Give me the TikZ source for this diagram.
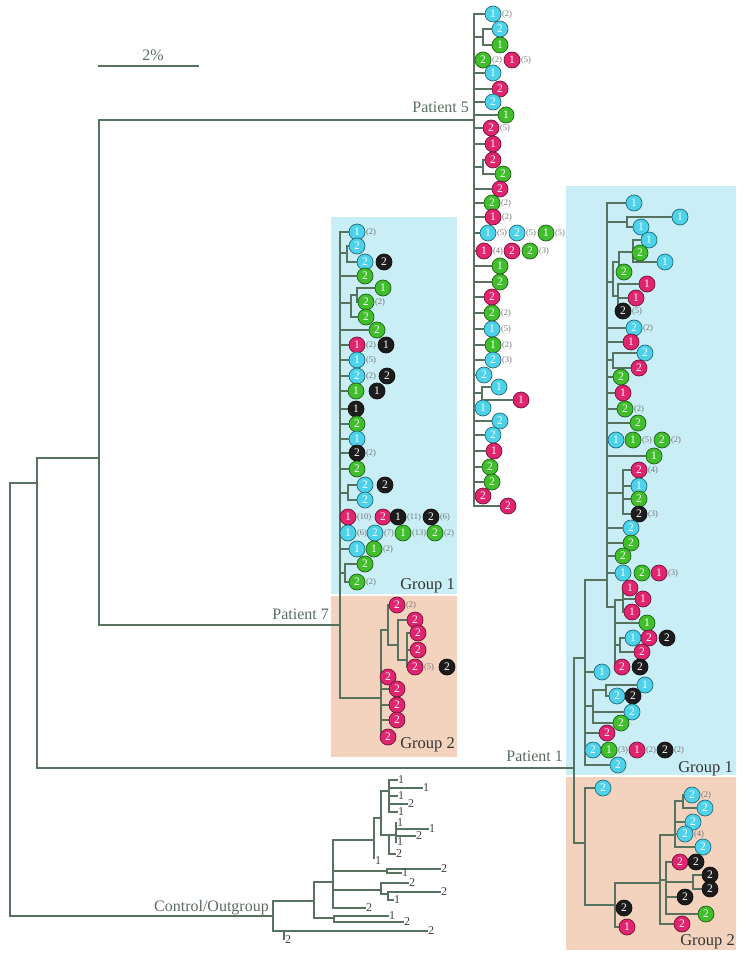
\documentclass[tikz,border=0pt]{standalone}
\usepackage{fontspec}
\setmainfont{Liberation Serif}
\usetikzlibrary{positioning}
\definecolor{treegreen}{HTML}{587260}
\definecolor{labgray}{HTML}{5A6C60}
\definecolor{cyl}{HTML}{4CD2EA}
\definecolor{mag}{HTML}{E0246E}
\definecolor{grn}{HTML}{40BE2C}
\definecolor{blk}{HTML}{1C1C1C}
\definecolor{paleblue}{HTML}{C9EEF6}
\definecolor{palepeach}{HTML}{F3D3BE}
\pgfdeclarelayer{bg}
\pgfdeclarelayer{ln}
\pgfsetlayers{bg,ln,main}
\newcount\lfn
\newcommand{\lf}[5]{\global\advance\lfn by 1
  \begin{pgfonlayer}{ln}\draw[br] (#1,#3) -- (#2,#3);\end{pgfonlayer}
  \node[#4] (lf\the\lfn) at (#2,#3) {#5};}
\newcommand{\ol}[4]{\global\advance\lfn by 1
  \draw[br] (#1,#3) -- (#2,#3);
  \node[olab] (ol\the\lfn) at (#2,#3) {#4};}

\begin{document}
\begin{tikzpicture}[x=1pt,y=-1pt,
  br/.style={draw=treegreen,line width=1.3pt,line cap=rect},
  leaf/.style={circle,inner sep=0pt,minimum size=16pt,line width=0.7pt,draw=#1!50!black,fill=#1,
    text=white,font=\fontsize{11.5}{11.5}\selectfont},
  cy/.style={leaf=cyl},
  mg/.style={leaf=mag},
  gr/.style={leaf=grn},
  bk/.style={leaf=blk},
  cnt/.style={font=\fontsize{8.5}{8.5}\selectfont,text=black!55,inner sep=0.5pt},
  cn/.style={label={[cnt,label distance=0pt]right:(#1)}},
  olab/.style={anchor=west,inner sep=1pt,font=\fontsize{12}{12}\selectfont,text=black!75},
  lab/.style={font=\fontsize{16}{16}\selectfont,text=labgray,inner sep=0pt},
  grp/.style={font=\fontsize{16.5}{16.5}\selectfont,text=black!80,inner sep=0pt,anchor=base east}
]
\useasboundingbox (0,0) rectangle (746,960);
\begin{pgfonlayer}{bg}
\fill[paleblue] (331,217) rectangle (457,594);
\fill[palepeach] (331,596) rectangle (457,757);
\fill[paleblue] (566,186) rectangle (736,775);
\fill[palepeach] (566,777) rectangle (736,950);
\end{pgfonlayer}

\begin{pgfonlayer}{ln}
\draw[br] (99,66) -- (198,66);
\draw[br] (10,483) -- (10,916) (10,483) -- (37,483) (37,458) -- (37,768) (37,458) -- (99,458)
  (99,120) -- (99,625) (99,120) -- (474,120) (99,625) -- (340,625) (37,768) -- (574,768)
  (10,916) -- (273,916);
\draw[br] (474,14) -- (474,506) (474,37) -- (483,37) (483,29) -- (483,45)
  (474,167) -- (483,167) (483,160) -- (483,174) (474,393) -- (482,393) (482,387) -- (482,400);
\draw[br] (340,232) -- (340,698) (340,253) -- (347,253) (347,246) -- (347,262)
  (340,303) -- (351,303) (351,295) -- (351,317) (351,295) -- (357,295) (357,288) -- (357,302)
  (340,493) -- (348,493) (348,485) -- (348,500) (340,573) -- (345,573) (345,564) -- (345,582)
  (340,698) -- (381,698) (381,630) -- (381,737) (381,630) -- (388,630) (388,605) -- (388,645)
  (388,645) -- (398,645) (398,620) -- (398,660) (398,660) -- (407,660) (407,633) -- (407,667);
\draw[br] (574,658) -- (574,843) (574,658) -- (585,658) (574,843) -- (585,843)
  (585,580) -- (585,765) (585,580) -- (607,580) (607,203) -- (607,607)
  (607,222) -- (627,222) (627,217) -- (627,227)
  (607,282) -- (613,282) (613,262) -- (613,296) (613,262) -- (619,262) (619,252) -- (619,272)
  (619,252) -- (633,252) (633,240) -- (633,262) (613,296) -- (618,296) (618,284) -- (618,311)
  (607,360) -- (613,360) (613,353) -- (613,368) (607,493) -- (623,493) (623,470) -- (623,514)
  (607,607) -- (615,607) (615,600) -- (615,667) (615,600) -- (623,600) (623,588) -- (623,612)
  (615,645) -- (620,645) (620,638) -- (620,652)
  (585,706) -- (593,706) (593,690) -- (593,723) (593,690) -- (606,690) (606,685) -- (606,696);
\draw[br] (585,788) -- (585,905) (585,905) -- (615,905) (615,883) -- (615,927) (615,883) -- (660,883)
  (660,835) -- (660,924) (660,835) -- (675,835) (675,801) -- (675,847) (675,801) -- (683,801)
  (683,795) -- (683,808) (660,880) -- (666,880) (666,862) -- (666,914) (666,882) -- (693,882)
  (693,875) -- (693,889);
\draw[br] (273,901) -- (273,931) (273,901) -- (314,901) (284,931) -- (284,939)
  (314,882) -- (314,918) (314,882) -- (333,882) (314,918) -- (334,918) (334,916) -- (334,922)
  (333,840) -- (333,908) (333,890) -- (381,890) (381,883) -- (381,894) (381,894) -- (388,894)
  (388,892) -- (388,900) (333,871) -- (387,871) (387,869) -- (387,873)
  (333,840) -- (374,840) (374,818) -- (374,858) (374,818) -- (381,818) (381,791) -- (381,835)
  (381,791) -- (389,791) (389,780) -- (389,812) (381,835) -- (389,835) (389,835) -- (389,854)
  (389,835) -- (396,835) (396,823) -- (396,842);
\ol{389}{397}{780}{1} \ol{389}{422}{788}{1} \ol{389}{397}{796}{1} \ol{389}{407}{804}{2}
\ol{389}{397}{812}{1} \ol{396}{396}{823}{1} \ol{396}{428}{829}{1} \ol{396}{415}{836}{2}
\ol{396}{396}{842}{1} \ol{389}{395}{854}{2} \ol{374}{374}{861}{1} \ol{387}{440}{869}{2}
\ol{387}{401}{873}{1} \ol{381}{408}{883}{2} \ol{388}{440}{892}{2} \ol{388}{393}{900}{1}
\ol{333}{365}{908}{2} \ol{334}{388}{916}{1} \ol{334}{403}{922}{2} \ol{273}{427}{931}{2}
\ol{284}{284}{940}{2}
\end{pgfonlayer}

\node[lab] (scale) at (153,55) {2\%};
\node[lab,anchor=base east] (p5) at (469,113) {Patient 5};
\node[lab,anchor=base east] (p7) at (329,619) {Patient 7};
\node[lab,anchor=base east] (p1) at (563,761) {Patient 1};
\node[lab,anchor=base east] (og) at (269,911) {Control/Outgroup};
\node[grp] (g1a) at (455,589) {Group 1};
\node[grp] (g2a) at (455,748) {Group 2};
\node[grp] (g1b) at (733,772) {Group 1};
\node[grp] (g2b) at (735,945) {Group 2};

\lf{474}{493}{14}{cy,cn=2}{1}
\lf{483}{500}{29}{cy}{2}
\lf{483}{500}{45}{gr}{1}
\lf{474}{483}{60}{gr,cn=2}{2}
\lf{512}{512}{60}{mg,cn=5}{1}
\lf{474}{493}{73}{cy}{1}
\lf{474}{500}{89}{mg}{2}
\lf{474}{493}{102}{cy}{2}
\lf{474}{506}{115}{gr}{1}
\lf{474}{491}{128}{mg,cn=5}{2}
\lf{474}{493}{144}{mg}{1}
\lf{483}{493}{160}{mg}{2}
\lf{483}{503}{174}{gr}{2}
\lf{474}{500}{189}{mg}{2}
\lf{474}{492}{203}{gr,cn=2}{2}
\lf{474}{493}{217}{mg,cn=2}{1}
\lf{474}{488}{233}{cy,cn=5}{1}
\lf{517}{517}{233}{cy,cn=5}{2}
\lf{546}{546}{233}{gr,cn=5}{1}
\lf{474}{484}{251}{mg,cn=4}{1}
\lf{512}{512}{251}{mg}{2}
\lf{530}{530}{251}{gr,cn=3}{2}
\lf{474}{500}{266}{gr}{1}
\lf{474}{500}{282}{gr}{2}
\lf{474}{492}{297}{mg}{2}
\lf{474}{492}{313}{gr,cn=2}{2}
\lf{474}{492}{329}{cy,cn=5}{1}
\lf{474}{493}{345}{gr,cn=2}{1}
\lf{474}{493}{360}{cy,cn=3}{2}
\lf{474}{484}{375}{cy}{2}
\lf{482}{499}{387}{cy}{1}
\lf{482}{521}{400}{mg}{1}
\lf{474}{483}{408}{cy}{1}
\lf{474}{500}{421}{cy}{2}
\lf{474}{493}{435}{cy}{2}
\lf{474}{494}{451}{mg}{1}
\lf{474}{490}{467}{gr}{2}
\lf{474}{492}{482}{gr}{2}
\lf{474}{483}{496}{mg}{2}
\lf{474}{508}{506}{mg}{2}

\lf{340}{357}{232}{cy,cn=2}{1}
\lf{347}{357}{246}{cy}{2}
\lf{347}{365}{262}{cy}{2}
\lf{384}{384}{262}{bk}{2}
\lf{340}{365}{276}{gr}{2}
\lf{357}{383}{288}{gr}{1}
\lf{357}{366}{302}{gr,cn=2}{2}
\lf{351}{366}{317}{gr}{2}
\lf{340}{377}{330}{gr}{2}
\lf{340}{357}{345}{mg,cn=2}{1}
\lf{386}{386}{345}{bk}{1}
\lf{340}{357}{360}{cy,cn=5}{1}
\lf{340}{357}{376}{cy,cn=2}{2}
\lf{387}{387}{376}{bk}{2}
\lf{340}{356}{391}{gr}{1}
\lf{377}{377}{391}{bk}{1}
\lf{340}{356}{409}{bk}{1}
\lf{340}{357}{424}{gr}{2}
\lf{340}{357}{439}{cy}{1}
\lf{340}{357}{453}{bk,cn=2}{2}
\lf{340}{357}{469}{gr}{2}
\lf{348}{365}{485}{cy}{2}
\lf{385}{385}{485}{bk}{2}
\lf{348}{365}{500}{cy}{2}
\lf{340}{348}{517}{mg,cn=10}{1}
\lf{383}{383}{517}{mg}{2}
\lf{398}{398}{517}{bk,cn=11}{1}
\lf{431}{431}{517}{bk,cn=6}{2}
\lf{340}{348}{533}{cy,cn=6}{1}
\lf{375}{375}{533}{cy,cn=7}{2}
\lf{403}{403}{533}{gr,cn=13}{1}
\lf{435}{435}{533}{gr,cn=2}{2}
\lf{340}{357}{549}{cy}{1}
\lf{374}{374}{549}{gr,cn=2}{1}
\lf{345}{365}{564}{gr}{2}
\lf{345}{357}{582}{gr,cn=2}{2}
\lf{388}{397}{605}{mg,cn=2}{2}
\lf{398}{415}{620}{mg}{2}
\lf{407}{418}{633}{mg}{2}
\lf{407}{418}{650}{mg}{2}
\lf{407}{415}{667}{mg,cn=5}{2}
\lf{447}{447}{667}{bk}{2}
\lf{381}{388}{677}{mg}{2}
\lf{381}{397}{689}{mg}{2}
\lf{381}{397}{705}{mg}{2}
\lf{381}{397}{720}{mg}{2}
\lf{381}{388}{737}{mg}{2}

\lf{607}{634}{203}{cy}{1}
\lf{627}{680}{217}{cy}{1}
\lf{627}{641}{227}{cy}{1}
\lf{633}{649}{240}{cy}{1}
\lf{633}{640}{253}{gr}{2}
\lf{633}{665}{262}{cy}{1}
\lf{619}{624}{272}{gr}{2}
\lf{618}{647}{284}{mg}{1}
\lf{618}{636}{298}{mg}{1}
\lf{618}{623}{311}{bk,cn=5}{2}
\lf{607}{634}{328}{cy,cn=2}{2}
\lf{607}{631}{342}{mg}{1}
\lf{613}{645}{353}{cy}{2}
\lf{613}{639}{368}{mg}{2}
\lf{607}{621}{377}{gr}{2}
\lf{607}{623}{393}{mg}{1}
\lf{607}{625}{409}{gr,cn=2}{2}
\lf{607}{638}{423}{gr}{2}
\lf{607}{616}{440}{cy}{1}
\lf{633}{633}{440}{gr,cn=5}{1}
\lf{662}{662}{440}{gr,cn=2}{2}
\lf{607}{654}{456}{gr}{1}
\lf{623}{639}{470}{mg,cn=4}{2}
\lf{623}{639}{486}{cy}{1}
\lf{623}{639}{499}{gr}{2}
\lf{623}{639}{514}{bk,cn=3}{2}
\lf{607}{631}{528}{cy}{2}
\lf{607}{631}{543}{gr}{2}
\lf{607}{623}{556}{gr}{2}
\lf{607}{623}{573}{cy}{1}
\lf{642}{642}{573}{gr}{2}
\lf{659}{659}{573}{mg,cn=3}{1}
\lf{623}{630}{588}{mg}{1}
\lf{623}{643}{599}{mg}{1}
\lf{623}{632}{612}{mg}{1}
\lf{615}{647}{623}{gr}{1}
\lf{620}{633}{638}{cy}{1}
\lf{649}{649}{638}{mg}{2}
\lf{667}{667}{638}{bk}{2}
\lf{620}{642}{652}{mg}{2}
\lf{615}{622}{667}{mg}{2}
\lf{640}{640}{667}{bk}{2}
\lf{585}{602}{672}{cy}{1}
\lf{606}{645}{685}{cy}{1}
\lf{606}{617}{696}{cy}{2}
\lf{633}{633}{696}{bk}{2}
\lf{593}{632}{712}{cy}{2}
\lf{593}{621}{723}{gr}{2}
\lf{585}{607}{733}{mg}{2}
\lf{585}{593}{750}{cy}{2}
\lf{609}{609}{750}{gr,cn=3}{1}
\lf{637}{637}{750}{mg,cn=2}{1}
\lf{665}{665}{750}{bk,cn=2}{2}
\lf{585}{618}{765}{cy}{2}

\lf{585}{603}{788}{cy}{2}
\lf{683}{692}{795}{cy,cn=2}{2}
\lf{683}{705}{808}{cy}{2}
\lf{675}{693}{822}{cy}{2}
\lf{675}{685}{834}{cy,cn=4}{2}
\lf{675}{703}{847}{cy}{2}
\lf{666}{680}{862}{mg}{2}
\lf{696}{696}{862}{bk}{2}
\lf{693}{710}{875}{bk}{2}
\lf{693}{710}{889}{bk}{2}
\lf{666}{685}{897}{bk}{2}
\lf{666}{706}{914}{gr}{2}
\lf{615}{624}{908}{bk}{2}
\lf{615}{627}{927}{mg}{1}
\lf{660}{682}{924}{mg}{2}
\end{tikzpicture}
\end{document}
